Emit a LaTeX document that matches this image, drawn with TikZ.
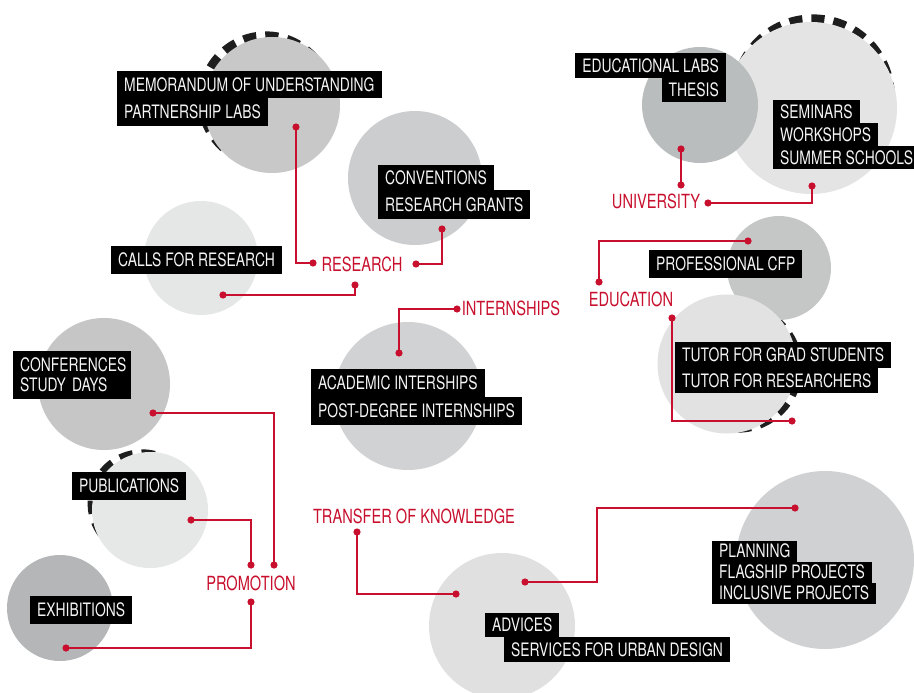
\documentclass[tikz,border=0pt]{standalone}
\usepackage{fontspec}
\setmainfont[FakeStretch=0.75]{TeX Gyre Heros}
\definecolor{myred}{RGB}{200,16,46}
\definecolor{ringc}{RGB}{30,30,30}
\definecolor{gMem}{RGB}{200,200,200}
\definecolor{gConv}{RGB}{204,205,206}
\definecolor{gCall}{RGB}{229,230,230}
\definecolor{gConf}{RGB}{198,198,198}
\definecolor{gPub}{RGB}{230,231,231}
\definecolor{gExh}{RGB}{181,182,184}
\definecolor{gAcad}{RGB}{209,210,211}
\definecolor{gEdu}{RGB}{186,189,189}
\definecolor{gSem}{RGB}{228,228,228}
\definecolor{gCfp}{RGB}{197,198,198}
\definecolor{gTut}{RGB}{226,226,226}
\definecolor{gAdv}{RGB}{224,224,224}
\definecolor{gPlan}{RGB}{208,209,210}
\begin{document}
\begin{tikzpicture}[x=1pt,y=-1pt,
  bub/.style={circle,inner sep=0pt,draw=none,fill=#1},
  ring/.style={draw=ringc,line width=9pt,dash pattern=on 13pt off 9pt},
  lbox/.style={fill=black,text={rgb,255:red,245;green,245;blue,245},font=\fontsize{18.5}{20}\selectfont,
    inner xsep=7pt,inner ysep=0pt,text height=13.3pt,text depth=0pt,anchor=west},
  rlab/.style={text=myred,font=\fontsize{19.5}{22}\selectfont,inner sep=0pt,text height=14pt,text depth=0pt},
  conn/.style={draw=myred,line width=1.1pt},
  dot/.style={fill=myred}]
\useasboundingbox (0,0) rectangle (914,693);
\fill[white] (0,0) rectangle (914,693);

% dashed rings (behind, offset so only one side shows)
\draw[ring] (265.9,99.8) circle[radius=63.9pt];
\draw[ring] (142.1,503.8) circle[radius=50pt];
\draw[ring] (813,96.2) circle[radius=77.3pt];
\draw[ring] (737.5,367.6) circle[radius=60.6pt];

% circles
\node[bub=gMem,minimum size=136pt] (cMem) at (272,105) {};
\node[bub=gConv,minimum size=134pt] (cConv) at (415,178) {};
\node[bub=gCall,minimum size=114pt] (cCall) at (201,258) {};
\node[bub=gConf,minimum size=132pt] (cConf) at (104,384) {};
\node[bub=gPub,minimum size=116pt] (cPub) at (150,510) {};
\node[bub=gExh,minimum size=106pt] (cExh) at (60,608) {};
\node[bub=gAcad,minimum size=148pt] (cAcad) at (408,396) {};
\node[bub=gSem,minimum size=172pt] (cSem) at (811,108) {};
\node[bub=gEdu,minimum size=116pt] (cEdu) at (700,105) {};
\node[bub=gCfp,minimum size=104pt] (cCfp) at (779,268) {};
\node[bub=gTut,minimum size=139pt] (cTut) at (727,364) {};
\node[bub=gAdv,minimum size=146pt] (cAdv) at (502,626) {};
\node[bub=gPlan,minimum size=178pt] (cPlan) at (825,560) {};

% red labels
\node[rlab] (research) at (362,264) {RESEARCH};
\node[rlab] (university) at (656,201) {UNIVERSITY};
\node[rlab] (education) at (631,299) {EDUCATION};
\node[rlab] (internships) at (511,308) {INTERNSHIPS};
\node[rlab] (transfer) at (414,516) {TRANSFER OF KNOWLEDGE};
\node[rlab] (promotion) at (251,583) {PROMOTION};

% dot coordinates
\coordinate (dMem) at (296,127);
\coordinate (dRes1) at (313,263);
\coordinate (dConv) at (442,229);
\coordinate (dRes2) at (416,264);
\coordinate (dCall) at (223,295);
\coordinate (dRes3) at (355,285);
\coordinate (dAcad) at (399,353);
\coordinate (dInt) at (457,309);
\coordinate (dEdu) at (681,149);
\coordinate (dUni1) at (681,185);
\coordinate (dSem) at (812,186);
\coordinate (dUni2) at (708,203);
\coordinate (dCfp) at (748,241);
\coordinate (dEd1) at (599,282);
\coordinate (dEd2) at (672,318);
\coordinate (dTut) at (792,421);
\coordinate (dConf) at (153,413);
\coordinate (dPro1) at (274,565);
\coordinate (dPub) at (191,520);
\coordinate (dPro2) at (251,565);
\coordinate (dPro3) at (251,602);
\coordinate (dExh) at (66,648);
\coordinate (dTra) at (357,532);
\coordinate (dAdv1) at (456,594);
\coordinate (dAdv2) at (525,582);
\coordinate (kAdv) at (597,582);
\coordinate (dPlan) at (795,508);

% connectors
\draw[conn] (dMem) |- (dRes1);
\draw[conn] (dConv) |- (dRes2);
\draw[conn] (dCall) -| (dRes3);
\draw[conn] (dAcad) |- (dInt);
\draw[conn] (dEdu) -- (dUni1);
\draw[conn] (dSem) |- (dUni2);
\draw[conn] (dCfp) -| (dEd1);
\draw[conn] (dEd2) |- (dTut);
\draw[conn] (dConf) -| (dPro1);
\draw[conn] (dPub) -| (dPro2);
\draw[conn] (dPro3) |- (dExh);
\draw[conn] (dTra) |- (dAdv1);
\draw[conn] (dAdv2) -- (kAdv) |- (dPlan);

\foreach \d in {dMem,dRes1,dConv,dRes2,dCall,dRes3,dAcad,dInt,dEdu,dUni1,dSem,dUni2,dCfp,dEd1,dEd2,dTut,dConf,dPro1,dPub,dPro2,dPro3,dExh,dTra,dAdv1,dAdv2,dPlan}
  \fill[dot] (\d) circle[radius=3.6pt];

% black label boxes
\node[lbox,minimum height=27pt] (bMem1) at (117,85) {MEMORANDUM OF UNDERSTANDING};
\node[lbox,minimum height=28pt] (bMem2) at (117,112) {PARTNERSHIP LABS};
\node[lbox,minimum height=25pt] (bConv1) at (378,177.5) {CONVENTIONS};
\node[lbox,minimum height=29pt] (bConv2) at (378,204.5) {RESEARCH GRANTS};
\node[lbox,minimum height=28pt] (bCall) at (111,260) {CALLS FOR RESEARCH};
\node[fill=black,text={rgb,255:red,245;green,245;blue,245},font=\fontsize{18.5}{20}\selectfont,
  inner xsep=7pt,inner ysep=6.8pt,text width=104pt,align=left,anchor=north west] (bConf) at (13,351)
  {\mbox{CONFERENCES}\\\mbox{STUDY DAYS}};
\node[lbox,minimum height=28pt] (bPub) at (72,486) {PUBLICATIONS};
\node[lbox,minimum height=28pt] (bExh) at (30,610) {EXHIBITIONS};
\node[lbox,minimum height=28pt] (bAcad1) at (311,383) {ACADEMIC INTERSHIPS};
\node[lbox,minimum height=28pt] (bAcad2) at (311,411) {POST-DEGREE INTERNSHIPS};
\node[lbox,anchor=east,minimum height=25pt] (bEdu1) at (726,65.5) {EDUCATIONAL LABS};
\node[lbox,anchor=east,minimum height=24pt] (bEdu2) at (726,90) {THESIS};
\node[lbox,minimum height=23pt] (bSem1) at (773,111.5) {SEMINARS};
\node[lbox,minimum height=23pt] (bSem2) at (773,134.5) {WORKSHOPS};
\node[lbox,minimum height=23pt] (bSem3) at (773,157.5) {SUMMER SCHOOLS};
\node[lbox,minimum height=28pt] (bCfp) at (649,264) {PROFESSIONAL CFP\hspace{7pt}};
\node[lbox,minimum height=26pt] (bTut1) at (675,355) {TUTOR FOR GRAD STUDENTS};
\node[lbox,minimum height=25pt] (bTut2) at (675,380.5) {TUTOR FOR RESEARCHERS};
\node[lbox,minimum height=21pt] (bPlan1) at (712,551) {PLANNING\hspace{8pt}};
\node[lbox,minimum height=21pt] (bPlan2) at (712,572) {FLAGSHIP PROJECTS};
\node[lbox,minimum height=21pt] (bPlan3) at (712,593) {INCLUSIVE PROJECTS};
\node[lbox,minimum height=24pt] (bAdv1) at (485,625) {ADVICES};
\node[lbox,minimum height=25pt] (bAdv2) at (504,649.5) {SERVICES FOR URBAN DESIGN};
\end{tikzpicture}
\end{document}
